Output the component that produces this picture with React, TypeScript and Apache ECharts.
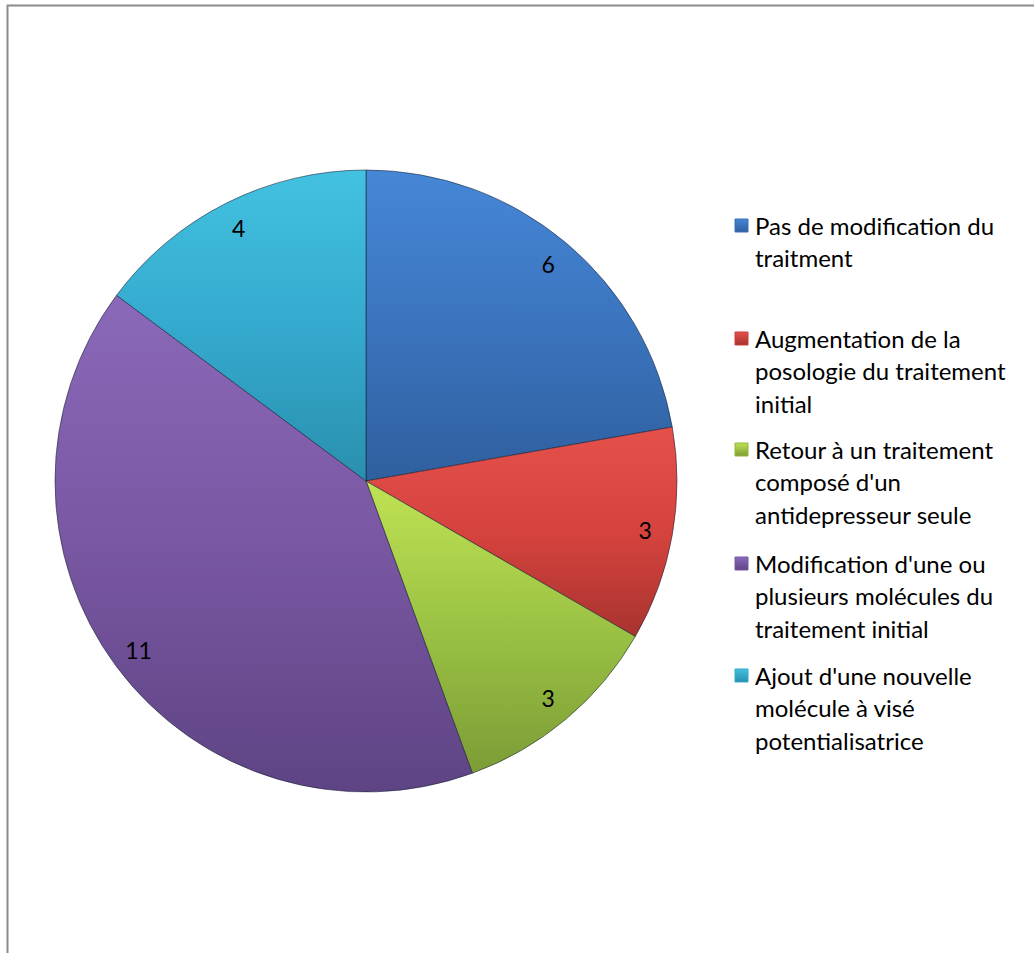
import React, { useEffect, useRef } from "react";
import * as echarts from "echarts";

const categories = [
  "Pas de modification du traitment",
  "Augmentation de la posologie du traitement initial",
  "Retour à un traitement composé d'un antidepresseur seule",
  "Modification d'une ou plusieurs molécules du traitement initial",
  "Ajout d'une nouvelle molécule à visé potentialisatrice",
];
const legendLines = [
  ["Pas de modification du", "traitment"],
  ["Augmentation de la", "posologie du traitement", "initial"],
  ["Retour à un traitement", "composé d'un", "antidepresseur seule"],
  ["Modification d'une ou", "plusieurs molécules du", "traitement initial"],
  ["Ajout d'une nouvelle", "molécule à visé", "potentialisatrice"],
];
const values = [6, 3, 3, 11, 4];
const gradients = [
  ["#4587d6", "#3b74be", "#2f5f9e"],
  ["#e5504b", "#d6433e", "#a8332f"],
  ["#c0e253", "#9bc244", "#7c9c36"],
  ["#8b69ba", "#7957a2", "#5e4484"],
  ["#43c1e0", "#34aace", "#2a8fae"],
];
const legendColors = ["#3a70b8", "#c8403b", "#92b83e", "#7a58a4", "#35a9c9"];

const FONT = "Lato, 'Liberation Sans', sans-serif";

export default function App() {
  const ref = useRef<HTMLDivElement>(null);
  useEffect(() => {
    if (!ref.current) return;
    const chart = echarts.init(ref.current, null, { renderer: "svg" });
    const grad = (c: string[]) =>
      new echarts.graphic.LinearGradient(0, 0, 0, 1, [
        { offset: 0, color: c[0] },
        { offset: 0.5, color: c[1] },
        { offset: 1, color: c[2] },
      ]);
    const legendX = 735;
    const legendStarts = [225, 338, 449, 563, 675];
    const lineH = 32.5;
    const legendGraphics: any[] = [];
    legendLines.forEach((lines, i) => {
      const y0 = legendStarts[i];
      legendGraphics.push({
        type: "rect",
        shape: { x: legendX, y: y0 - 6, width: 13, height: 13 },
        style: {
          fill: new echarts.graphic.LinearGradient(0, 0, 0, 1, [
            { offset: 0, color: gradients[i][0] },
            { offset: 1, color: gradients[i][2] },
          ]),
          stroke: legendColors[i],
          lineWidth: 1,
        },
      });
      lines.forEach((t, j) => {
        legendGraphics.push({
          type: "text",
          x: 755,
          y: y0 + j * lineH,
          style: {
            text: t,
            fill: "#000",
            font: `24px ${FONT}`,
            verticalAlign: "middle",
          },
        });
      });
    });
    chart.setOption({
      animation: false,
      backgroundColor: "#ffffff",
      graphic: [
        {
          type: "polyline",
          shape: { points: [[7.5, 1000], [7.5, 5.5], [1100, 5.5]] },
          style: { stroke: "#8c8c8c", lineWidth: 2, fill: "none" },
        },
        ...legendGraphics,
      ],
      series: [
        {
          type: "pie",
          center: [366, 481],
          radius: [0, 311],
          startAngle: 90,
          clockwise: true,
          silent: true,
          label: { show: false },
          labelLine: { show: false },
          data: categories.map((name, i) => ({
            name,
            value: values[i],
            itemStyle: {
              color: grad(gradients[i]),
              borderColor: "rgba(20,30,50,0.55)",
              borderWidth: 1,
            },
          })),
        },
        {
          type: "pie",
          center: [366, 481],
          radius: [250, 311],
          startAngle: 90,
          clockwise: true,
          silent: true,
          itemStyle: { color: "rgba(0,0,0,0)" },
          label: {
            show: true,
            position: "inside",
            formatter: "{c}",
            color: "#000",
            fontSize: 23,
            fontFamily: FONT,
          },
          labelLine: { show: false },
          data: categories.map((name, i) => ({ name, value: values[i] })),
        },
      ],
    });
    return () => chart.dispose();
  }, []);
  return (
    <div
      ref={ref}
      style={{ position: "fixed", left: 0, top: 0, width: 1034, height: 953 }}
    />
  );
}
